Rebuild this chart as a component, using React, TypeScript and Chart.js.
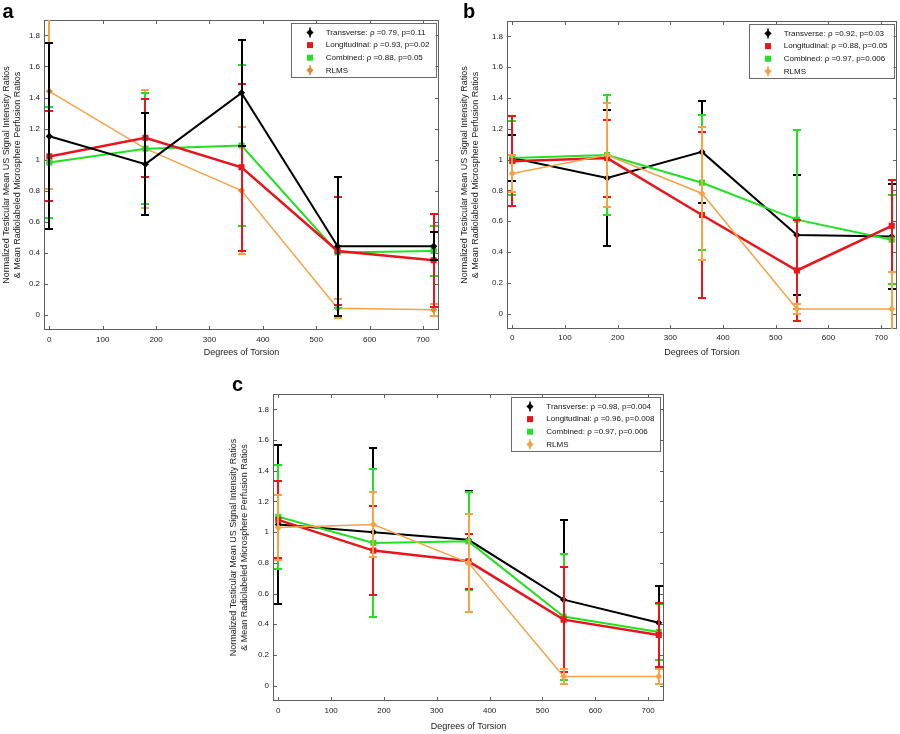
import { Chart, registerables } from "chart.js";
import { useEffect, useRef } from "react";

Chart.register(...registerables);

const FONT = "'Liberation Sans', Arial, Helvetica, sans-serif";
Chart.defaults.font.family = FONT;
Chart.defaults.color = "#1a1a1a";

// degrees of torsion (x positions of every series)
const degrees = [0, 180, 360, 540, 720];
const xTicks = [0, 100, 200, 300, 400, 500, 600, 700];
const yTicks = [0, 0.2, 0.4, 0.6, 0.8, 1, 1.2, 1.4, 1.6, 1.8];

const xTitle = "Degrees of Torsion";
const yTitle = [
    "Normalized Testicular Mean US Signal Intensity Ratios",
    "& Mean Radiolabeled Microsphere Perfusion Ratios",
];

// panel a
const aTransverse = [1.15, 0.97, 1.43, 0.44, 0.44];
const aTransverseErr = [0.6, 0.33, 0.34, 0.45, 0.09];
const aLongitudinal = [1.02, 1.14, 0.95, 0.41, 0.35];
const aLongitudinalErr = [0.29, 0.25, 0.54, 0.35, 0.3];
const aCombined = [0.98, 1.07, 1.09, 0.4, 0.41];
const aCombinedErr = [0.36, 0.36, 0.52, 0.36, 0.16];
const aRlms = [1.44, 1.07, 0.8, 0.04, 0.03];
const aRlmsErr = [0.63, 0.38, 0.41, 0.06, 0.04];
const aLegend = [
    "Transverse: ρ =0.79, p=0.11",
    "Longitudinal: ρ =0.93, p=0.02",
    "Combined: ρ =0.88, p=0.05",
    "RLMS",
];

// panel b
const bTransverse = [1.01, 0.88, 1.05, 0.51, 0.5];
const bTransverseErr = [0.15, 0.44, 0.33, 0.39, 0.34];
const bLongitudinal = [0.99, 1.01, 0.64, 0.28, 0.57];
const bLongitudinalErr = [0.29, 0.25, 0.54, 0.33, 0.3];
const bCombined = [1.01, 1.03, 0.85, 0.61, 0.48];
const bCombinedErr = [0.24, 0.39, 0.44, 0.58, 0.29];
const bRlms = [0.91, 1.03, 0.78, 0.03, 0.03];
const bRlmsErr = [0.12, 0.34, 0.43, 0.035, 0.24];
const bLegend = [
    "Transverse: ρ =0.92, p=0.03",
    "Longitudinal: ρ =0.88, p=0.05",
    "Combined: ρ =0.97, p=0.006",
    "RLMS",
];

// panel c
const cTransverse = [1.05, 1.0, 0.95, 0.56, 0.41];
const cTransverseErr = [0.52, 0.55, 0.32, 0.52, 0.24];
const cLongitudinal = [1.08, 0.88, 0.81, 0.43, 0.33];
const cLongitudinalErr = [0.25, 0.29, 0.18, 0.34, 0.21];
const cCombined = [1.1, 0.93, 0.94, 0.45, 0.35];
const cCombinedErr = [0.34, 0.48, 0.32, 0.41, 0.18];
const cRlms = [1.03, 1.05, 0.8, 0.06, 0.06];
const cRlmsErr = [0.21, 0.21, 0.32, 0.05, 0.05];
const cLegend = [
    "Transverse: ρ =0.98, p=0.004",
    "Longitudinal: ρ =0.96, p=0.008",
    "Combined: ρ =0.97, p=0.006",
    "RLMS",
];

// transverse, longitudinal, combined, RLMS
const seriesStyle = [
    { color: "#000000", point: "rectRot", radius: 3.6, width: 2, bar: 2 },
    { color: "#e8151d", point: "rect", radius: 4.3, width: 2.5, bar: 2 },
    { color: "#22e022", point: "rect", radius: 4.3, width: 2, bar: 2 },
    { color: "#f5a347", point: "rectRot", radius: 3.6, width: 1.5, bar: 2 },
];

type Panel = {
    letter: string;
    values: number[][];
    errors: number[][];
    legend: string[];
    order: number[];
    rlmsPoint: string;
    left: number;
    top: number;
    width: number;
    height: number;
    yAxis: number;
    xAxis: number;
    padTop: number;
    padRight: number;
    tickPad: number;
    titlePad: number;
    letterX: number;
    letterY: number;
};

const panels: Panel[] = [
    {
        letter: "a",
        values: [aTransverse, aLongitudinal, aCombined, aRlms],
        errors: [aTransverseErr, aLongitudinalErr, aCombinedErr, aRlmsErr],
        legend: aLegend,
        order: [0, 1, 2, 3],
        rlmsPoint: "#de8a2e",
        left: 0, top: 0, width: 445, height: 365,
        yAxis: 44, xAxis: 35, padTop: 20, padRight: 6, tickPad: 5, titlePad: 7,
        letterX: 2.5, letterY: 18.3,
    },
    {
        letter: "b",
        values: [bTransverse, bLongitudinal, bCombined, bRlms],
        errors: [bTransverseErr, bLongitudinalErr, bCombinedErr, bRlmsErr],
        legend: bLegend,
        order: [3, 1, 2, 0],
        rlmsPoint: "#f5a347",
        left: 458, top: 0, width: 442, height: 365,
        yAxis: 49, xAxis: 36, padTop: 21, padRight: 3, tickPad: 4, titlePad: 7,
        letterX: 5, letterY: 18.3,
    },
    {
        letter: "c",
        values: [cTransverse, cLongitudinal, cCombined, cRlms],
        errors: [cTransverseErr, cLongitudinalErr, cCombinedErr, cRlmsErr],
        legend: cLegend,
        order: [3, 1, 2, 0],
        rlmsPoint: "#f5a347",
        left: 227, top: 374, width: 440, height: 360,
        yAxis: 46, xAxis: 33, padTop: 20, padRight: 3, tickPad: 5, titlePad: 1.7,
        letterX: 5, letterY: 17,
    },
];

const fmt = (v: number) => String(Number(v.toFixed(1)));

function drawMarker(ctx: CanvasRenderingContext2D, kind: string, x: number, y: number, color: string) {
    ctx.fillStyle = color;
    ctx.beginPath();
    if (kind === "rect") {
        ctx.rect(x - 3, y - 3, 6, 6);
    } else {
        ctx.moveTo(x, y - 3.6);
        ctx.lineTo(x + 3.6, y);
        ctx.lineTo(x, y + 3.6);
        ctx.lineTo(x - 3.6, y);
        ctx.closePath();
    }
    ctx.fill();
}

function decorPlugin(p: Panel) {
    return {
        id: "decor",
        beforeDatasetsDraw(chart: any) {
            const { ctx, chartArea: ca, scales } = chart;
            ctx.save();
            ctx.strokeStyle = "#5f5f5f";
            ctx.lineWidth = 1;
            ctx.strokeRect(ca.left + 0.5, ca.top + 0.5, ca.right - ca.left - 1, ca.bottom - ca.top - 1);
            ctx.beginPath();
            xTicks.forEach((v) => {
                const x = Math.round(scales.x.getPixelForValue(v)) + 0.5;
                ctx.moveTo(x, ca.bottom);
                ctx.lineTo(x, ca.bottom - 4);
                ctx.moveTo(x, ca.top);
                ctx.lineTo(x, ca.top + 4);
            });
            yTicks.forEach((v) => {
                const y = Math.round(scales.y.getPixelForValue(v)) + 0.5;
                ctx.moveTo(ca.left, y);
                ctx.lineTo(ca.left + 4, y);
                ctx.moveTo(ca.right, y);
                ctx.lineTo(ca.right - 4, y);
            });
            ctx.stroke();
            ctx.restore();
        },
        beforeDatasetDraw(chart: any, args: any) {
            const { ctx, chartArea: ca, scales } = chart;
            const i = args.index;
            const vals = p.values[i];
            const errs = p.errors[i];
            const st = seriesStyle[i];
            ctx.save();
            ctx.beginPath();
            ctx.rect(ca.left, ca.top, ca.right - ca.left, ca.bottom - ca.top);
            ctx.clip();
            ctx.strokeStyle = st.color;
            ctx.lineWidth = st.bar;
            ctx.lineCap = "butt";
            degrees.forEach((d, k) => {
                // snap to whole pixels so overlapping bars keep clean colours
                const x = Math.round(scales.x.getPixelForValue(d));
                const hi = Math.round(scales.y.getPixelForValue(vals[k] + errs[k]));
                const lo = Math.round(scales.y.getPixelForValue(vals[k] - errs[k]));
                ctx.beginPath();
                ctx.moveTo(x, hi - 1);
                ctx.lineTo(x, lo + 1);
                ctx.moveTo(x - 4, hi);
                ctx.lineTo(x + 4, hi);
                ctx.moveTo(x - 4, lo);
                ctx.lineTo(x + 4, lo);
                ctx.stroke();
            });
            ctx.restore();
        },
        afterDatasetsDraw(chart: any) {
            const { ctx, chartArea: ca } = chart;
            ctx.save();
            ctx.font = `8px ${FONT}`;
            const maxW = Math.max(...p.legend.map((t) => ctx.measureText(t).width));
            const w = 35 + maxW + 6;
            const h = 53.5;
            const right = ca.right - 3.5;
            const left = right - w;
            const top = ca.top + 3;
            ctx.fillStyle = "#ffffff";
            ctx.fillRect(left, top, w, h);
            ctx.strokeStyle = "#6a6a6a";
            ctx.lineWidth = 1;
            ctx.strokeRect(Math.round(left) + 0.5, Math.round(top) + 0.5, Math.round(w), Math.round(h));
            p.legend.forEach((t, r) => {
                const y = top + 9.5 + r * 12.6;
                const st = seriesStyle[r];
                const mc = r === 3 ? p.rlmsPoint : st.color;
                const mx = Math.round(left + 19);
                if (st.point === "rectRot") {
                    ctx.strokeStyle = mc;
                    ctx.lineWidth = 1.5;
                    ctx.beginPath();
                    ctx.moveTo(mx, y - 5);
                    ctx.lineTo(mx, y + 5);
                    ctx.stroke();
                }
                drawMarker(ctx, st.point, mx, y, mc);
                ctx.fillStyle = "#111111";
                ctx.textBaseline = "middle";
                ctx.textAlign = "left";
                ctx.fillText(t, left + 35, y);
            });
            ctx.restore();
        },
        afterDraw(chart: any) {
            const { ctx } = chart;
            ctx.save();
            ctx.font = `bold 20px ${FONT}`;
            ctx.fillStyle = "#000000";
            ctx.textBaseline = "alphabetic";
            ctx.textAlign = "left";
            ctx.fillText(p.letter, p.letterX, p.letterY);
            ctx.restore();
        },
    };
}

function PanelChart({ p }: { p: Panel }) {
    const canvasRef = useRef<HTMLCanvasElement | null>(null);
    const chartRef = useRef<Chart | null>(null);

    useEffect(() => {
        const ctx = canvasRef.current?.getContext("2d");
        if (chartRef.current) chartRef.current.destroy();

        const names = ["Transverse", "Longitudinal", "Combined", "RLMS"];
        const datasets = p.values.map((vals, i) => {
            const st = seriesStyle[i];
            const mc = i === 3 ? p.rlmsPoint : st.color;
            return {
                label: names[i],
                data: degrees.map((d, k) => ({ x: d, y: vals[k] })),
                borderColor: st.color,
                borderWidth: st.width,
                backgroundColor: mc,
                pointStyle: st.point,
                pointRadius: st.radius,
                pointBackgroundColor: mc,
                pointBorderColor: mc,
                pointBorderWidth: 0,
                tension: 0,
                order: p.order[i],
            };
        });

        chartRef.current = new Chart(ctx!, {
            type: "line",
            data: { datasets: datasets as any },
            options: {
                responsive: false,
                animation: false,
                events: [],
                layout: {
                    autoPadding: false,
                    padding: { left: 0, top: p.padTop, right: p.padRight, bottom: 0 },
                },
                plugins: {
                    legend: { display: false },
                    tooltip: { enabled: false },
                },
                scales: {
                    x: {
                        type: "linear",
                        min: -10,
                        max: 730,
                        afterBuildTicks: (s: any) => {
                            s.ticks = xTicks.map((v) => ({ value: v }));
                        },
                        afterFit: (s: any) => {
                            s.height = p.xAxis;
                        },
                        grid: { display: false, drawTicks: false },
                        border: { display: false },
                        ticks: {
                            autoSkip: false,
                            maxRotation: 0,
                            padding: p.tickPad,
                            color: "#1a1a1a",
                            font: { size: 8, family: FONT },
                            callback: (v: any) => fmt(Number(v)),
                        },
                        title: {
                            display: true,
                            text: xTitle,
                            color: "#222222",
                            font: { size: 9, family: FONT, lineHeight: 1.25 },
                            padding: { top: 0, bottom: p.titlePad },
                        },
                    },
                    y: {
                        type: "linear",
                        min: -0.1,
                        max: 1.9,
                        afterBuildTicks: (s: any) => {
                            s.ticks = yTicks.map((v) => ({ value: v }));
                        },
                        afterFit: (s: any) => {
                            s.width = p.yAxis;
                        },
                        grid: { display: false, drawTicks: false },
                        border: { display: false },
                        ticks: {
                            padding: 4,
                            color: "#1a1a1a",
                            font: { size: 8, family: FONT },
                            callback: (v: any) => fmt(Number(v)),
                        },
                        title: {
                            display: true,
                            text: yTitle,
                            color: "#222222",
                            font: { size: 9, family: FONT, lineHeight: 1.25 },
                            padding: { top: 1, bottom: 0 },
                        },
                    },
                },
            },
            plugins: [decorPlugin(p) as any],
        });

        return () => {
            if (chartRef.current) {
                chartRef.current.destroy();
                chartRef.current = null;
            }
        };
    }, [p]);

    return (
        <canvas
            ref={canvasRef}
            width={p.width}
            height={p.height}
            style={{ position: "absolute", left: p.left, top: p.top, width: p.width, height: p.height }}
        />
    );
}

export default function App() {
    return (
        <div
            style={{
                position: "absolute",
                left: 0,
                top: 0,
                width: 900,
                height: 734,
                background: "#ffffff",
                overflow: "hidden",
            }}
        >
            {panels.map((p) => (
                <PanelChart key={p.letter} p={p} />
            ))}
        </div>
    );
}
